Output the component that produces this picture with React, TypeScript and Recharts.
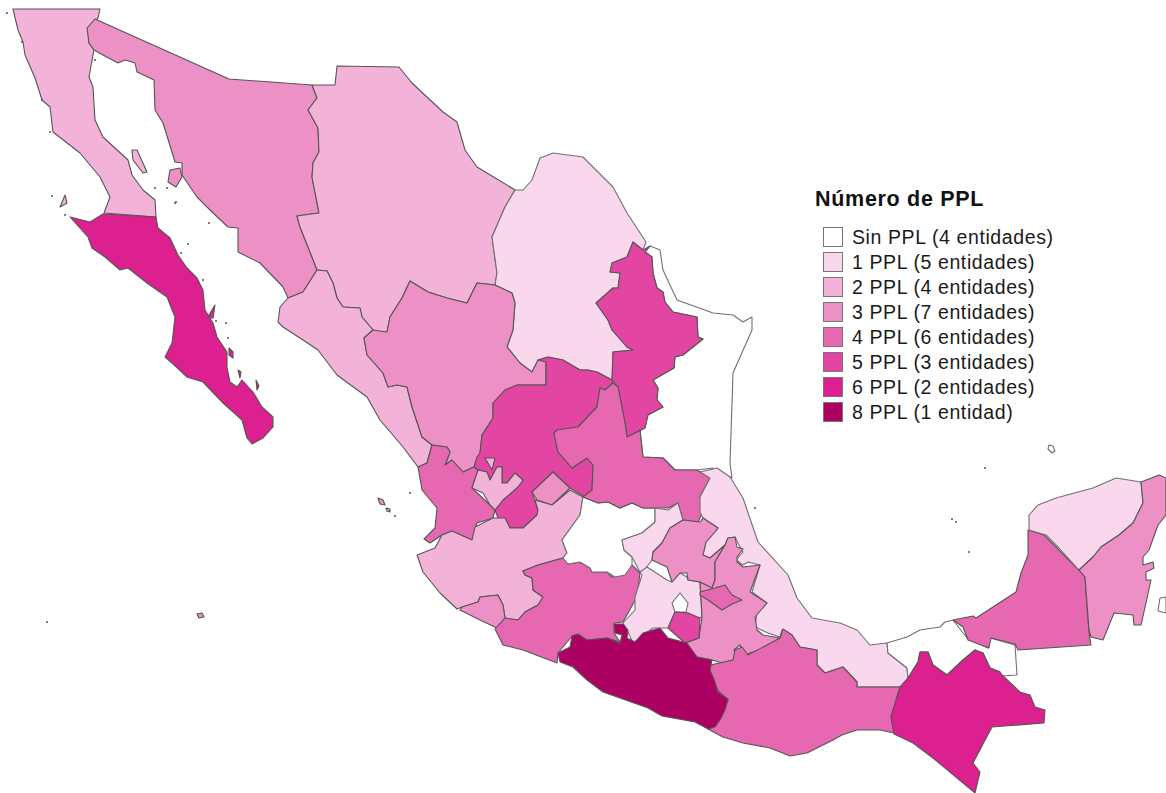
import { Legend, Polygon, Scatter, ScatterChart, XAxis, YAxis } from "recharts"

type Vertex = [number, number]

// Map units: the axes run over the picture's own extent.
const mapWidth = 1166
const mapHeight = 793

const legendTitle = "Número de PPL"
const legendLabels = [
  "Sin PPL (4 entidades)",
  "1 PPL (5 entidades)",
  "2 PPL (4 entidades)",
  "3 PPL (7 entidades)",
  "4 PPL (6 entidades)",
  "5 PPL (3 entidades)",
  "6 PPL (2 entidades)",
  "8 PPL (1 entidad)",
]
const classColors = ["#ffffff", "#f9d8ed", "#f3b3d9", "#ec90c5", "#e668b0", "#e245a2", "#dd2090", "#ad0063"]

const bajaCalifornia: Vertex[] = [[13,9],[100,9],[98,18],[88,28],[89,43],[94,50],[89,77],[93,87],[95,120],[103,137],[128,160],[132,175],[143,190],[155,200],[156,217],[104,213],[110,197],[100,177],[80,153],[53,132],[50,107],[42,100],[35,78],[25,55],[23,42],[18,30]]
const angelGuarda: Vertex[] = [[132,150],[137,150],[147,172],[143,173],[133,160]]
const cedros: Vertex[] = [[65,195],[67,203],[60,207],[63,200]]
const sonora: Vertex[] = [[95,19],[229,79],[312,85],[317,98],[308,110],[318,128],[319,152],[313,163],[312,177],[319,213],[297,216],[300,227],[312,257],[317,270],[303,292],[288,298],[283,287],[260,263],[238,252],[238,228],[228,227],[210,210],[197,197],[182,175],[182,163],[175,162],[163,123],[155,110],[154,80],[137,72],[135,63],[125,60],[118,63],[103,55],[94,50],[89,43],[87,28]]
const tiburon: Vertex[] = [[170,170],[180,168],[182,177],[176,187],[168,182]]
const bajaSur: Vertex[] = [[70,217],[90,222],[103,214],[156,217],[158,228],[170,238],[178,255],[187,268],[197,278],[203,290],[205,310],[213,323],[217,337],[227,352],[227,367],[230,382],[237,387],[242,380],[253,392],[262,407],[273,417],[273,427],[263,438],[252,444],[247,438],[242,420],[223,403],[203,382],[187,377],[172,363],[165,357],[172,343],[175,317],[167,297],[147,283],[128,268],[120,270],[105,257],[92,248],[88,237]]
const bajaSurIsle1: Vertex[] = [[209,315],[215,305],[213,318],[208,318]]
const bajaSurIsle2: Vertex[] = [[229,348],[233,352],[233,358],[229,355]]
const bajaSurIsle3: Vertex[] = [[238,370],[241,372],[240,378]]
const bajaSurIsle4: Vertex[] = [[256,380],[259,386],[257,390]]
const chihuahua: Vertex[] = [[337,66],[399,67],[412,83],[443,112],[457,122],[465,150],[477,167],[515,190],[505,207],[492,237],[497,273],[495,285],[477,283],[467,303],[447,298],[428,292],[410,281],[402,298],[390,317],[387,332],[377,333],[373,330],[362,317],[360,308],[343,307],[337,298],[333,283],[327,271],[317,270],[312,257],[300,227],[297,216],[319,213],[312,177],[313,163],[319,152],[318,128],[308,110],[317,98],[312,85],[335,85]]
const coahuila: Vertex[] = [[515,190],[523,190],[532,180],[540,158],[553,153],[583,157],[593,167],[613,187],[627,213],[646,242],[643,250],[633,242],[627,257],[612,263],[610,272],[620,273],[618,288],[613,288],[596,303],[608,320],[612,330],[627,347],[633,350],[613,352],[612,380],[597,372],[588,370],[580,370],[563,360],[548,357],[538,360],[532,372],[520,363],[507,347],[513,330],[515,303],[512,293],[495,285],[497,273],[492,237],[505,207]]
const nuevoLeon: Vertex[] = [[633,242],[643,250],[650,246],[645,252],[652,257],[653,273],[657,288],[663,292],[665,302],[673,312],[697,317],[698,337],[703,339],[683,355],[675,357],[674,368],[653,380],[658,388],[657,400],[663,407],[648,415],[645,428],[637,432],[627,437],[625,423],[618,387],[612,380],[613,352],[633,350],[627,347],[612,330],[608,320],[596,303],[613,288],[618,288],[620,273],[610,272],[612,263],[627,257]]
const tamaulipas: Vertex[] = [[645,252],[650,246],[660,250],[663,270],[677,300],[713,313],[733,315],[743,322],[752,317],[752,330],[733,373],[730,463],[732,478],[713,468],[697,470],[675,470],[663,458],[643,457],[640,430],[645,428],[648,415],[663,407],[657,400],[658,388],[653,380],[674,368],[675,357],[683,355],[703,339],[698,337],[697,317],[673,312],[665,302],[663,292],[657,288],[653,273],[652,257]]
const durango: Vertex[] = [[410,281],[428,292],[447,298],[467,303],[477,283],[495,285],[512,293],[515,303],[513,330],[507,347],[520,363],[532,372],[538,360],[546,360],[546,385],[517,385],[505,390],[493,403],[493,418],[482,435],[480,453],[474,467],[463,472],[452,460],[445,465],[450,452],[447,447],[432,445],[422,437],[412,407],[407,387],[397,385],[388,387],[383,373],[367,355],[364,338],[373,330],[387,332],[390,317],[402,298]]
const sinaloa: Vertex[] = [[317,270],[327,271],[333,283],[337,298],[343,307],[360,308],[362,317],[373,330],[364,338],[367,355],[383,373],[388,387],[397,385],[407,387],[412,407],[422,437],[432,445],[427,463],[418,467],[403,447],[380,420],[367,397],[337,375],[318,350],[303,340],[283,327],[278,322],[280,307],[288,298],[303,292]]
const zacatecas: Vertex[] = [[538,360],[548,357],[563,360],[580,370],[588,370],[597,372],[612,380],[613,383],[605,390],[600,388],[597,407],[578,427],[557,430],[554,433],[558,452],[572,468],[587,458],[593,465],[592,490],[585,497],[570,488],[553,472],[532,492],[538,510],[537,515],[523,528],[510,528],[498,518],[495,510],[503,500],[518,487],[523,480],[515,473],[507,483],[502,483],[502,467],[497,467],[490,480],[487,472],[478,470],[474,467],[477,457],[480,453],[482,435],[493,418],[493,403],[505,390],[517,385],[546,385],[546,362]]
const aguascalientes: Vertex[] = [[532,492],[553,472],[570,488],[552,505],[537,500]]
const nayarit: Vertex[] = [[432,445],[447,447],[450,452],[445,465],[452,460],[463,472],[474,467],[478,470],[472,488],[490,505],[495,510],[493,518],[477,523],[472,540],[452,531],[442,535],[430,543],[424,539],[435,528],[437,508],[422,490],[418,467],[427,463]]
const jalisco: Vertex[] = [[417,555],[435,548],[442,535],[452,531],[472,540],[475,527],[493,518],[505,518],[510,528],[523,528],[537,515],[538,510],[535,500],[552,505],[570,490],[583,497],[580,515],[562,540],[567,553],[563,558],[538,565],[523,571],[525,575],[532,578],[533,590],[543,597],[538,605],[525,612],[518,620],[505,618],[503,605],[498,595],[480,597],[478,602],[462,607],[457,609],[440,593],[423,572]]
const jaliscoNorte: Vertex[] = [[472,488],[478,470],[487,472],[490,480],[497,467],[502,467],[502,483],[507,483],[515,473],[523,480],[518,487],[503,500],[495,510],[490,505],[483,493]]
const jaliscoPatch: Vertex[] = [[485,458],[495,458],[492,470]]
const colima: Vertex[] = [[462,607],[478,602],[480,597],[498,595],[503,605],[505,618],[497,628],[480,620],[460,610]]
const michoacan: Vertex[] = [[563,558],[568,564],[580,562],[590,568],[592,572],[607,572],[612,577],[623,575],[632,565],[640,573],[637,597],[623,622],[614,623],[614,633],[620,642],[607,638],[587,640],[573,635],[558,653],[557,663],[523,650],[503,645],[495,629],[505,618],[518,620],[525,612],[538,605],[543,597],[533,590],[532,578],[525,575],[523,571],[538,565]]
const guanajuato: Vertex[] = [[583,497],[598,503],[608,502],[620,508],[632,503],[643,508],[655,508],[655,522],[642,533],[622,540],[624,550],[632,557],[632,565],[625,575],[615,577],[607,572],[592,572],[590,568],[580,562],[568,564],[563,558],[567,553],[562,540],[580,515]]
const sanLuis: Vertex[] = [[613,383],[618,387],[625,423],[627,437],[637,432],[640,430],[643,457],[663,458],[675,470],[697,470],[710,478],[700,497],[703,512],[698,522],[683,520],[678,503],[668,508],[655,508],[643,508],[632,503],[620,508],[608,502],[598,503],[583,497],[592,490],[593,465],[587,458],[572,468],[558,452],[554,433],[557,430],[578,427],[597,407],[600,388],[605,390]]
const queretaro: Vertex[] = [[655,508],[668,510],[678,503],[683,520],[670,528],[662,543],[653,552],[652,560],[643,572],[640,572],[632,557],[624,550],[622,540],[642,533],[655,522]]
const veracruz: Vertex[] = [[700,472],[717,468],[730,477],[743,498],[758,542],[788,575],[797,598],[812,618],[840,623],[857,630],[870,645],[887,643],[888,653],[907,668],[908,678],[900,687],[857,687],[857,682],[843,667],[825,673],[817,665],[817,650],[800,647],[792,635],[782,630],[780,637],[768,633],[755,627],[757,612],[767,603],[752,592],[760,565],[748,562],[743,565],[736,560],[743,552],[738,543],[735,537],[728,538],[725,545],[710,558],[703,555],[706,542],[718,528],[703,518],[700,512],[700,497],[710,478]]
const edomex: Vertex[] = [[647,567],[667,580],[672,582],[680,573],[687,577],[688,580],[700,582],[702,617],[698,618],[688,613],[675,612],[668,628],[653,628],[633,643],[627,630],[623,623],[635,610],[635,597],[642,575],[640,572]]
const cdmx: Vertex[] = [[680,593],[688,603],[686,612],[675,612],[672,603]]
const morelos: Vertex[] = [[675,612],[688,613],[700,618],[699,638],[685,643],[668,628]]
const guerrero: Vertex[] = [[558,653],[570,647],[572,636],[578,634],[587,640],[607,638],[620,643],[622,635],[615,633],[614,624],[623,624],[628,630],[627,638],[635,642],[643,633],[660,628],[668,638],[687,643],[697,657],[712,660],[710,670],[715,682],[718,692],[728,699],[725,710],[720,720],[715,727],[708,729],[695,722],[662,716],[648,708],[603,692],[587,680],[573,667],[560,662]]
const hidalgo: Vertex[] = [[683,520],[700,522],[703,518],[718,528],[715,532],[706,542],[703,555],[710,558],[725,545],[715,562],[715,580],[712,588],[700,582],[688,580],[687,573],[680,573],[672,582],[667,567],[652,560],[653,552],[662,543],[670,528]]
const puebla: Vertex[] = [[712,660],[722,663],[737,659],[734,650],[740,645],[744,655],[762,649],[780,638],[763,635],[757,630],[755,617],[767,603],[750,592],[760,565],[743,567],[737,562],[737,557],[743,549],[737,547],[735,537],[728,538],[725,545],[715,562],[715,580],[712,588],[700,582],[702,617],[699,638],[685,643],[697,657]]
const tlaxcala: Vertex[] = [[700,592],[715,588],[725,585],[732,595],[742,600],[732,604],[722,610],[708,600],[700,595]]
const oaxaca: Vertex[] = [[710,665],[733,660],[735,650],[742,647],[748,655],[780,638],[783,629],[792,635],[800,647],[817,650],[817,665],[825,673],[843,667],[857,682],[857,687],[900,687],[891,717],[894,733],[880,730],[857,730],[842,735],[833,740],[807,753],[790,756],[770,748],[743,743],[723,737],[708,729],[715,725],[720,717],[728,700],[717,690],[710,673]]
const chiapas: Vertex[] = [[900,687],[908,678],[918,662],[920,652],[928,652],[933,665],[947,675],[963,660],[975,650],[983,653],[990,668],[1000,672],[1002,675],[1020,692],[1030,695],[1035,707],[1045,710],[1044,723],[992,727],[973,763],[980,772],[975,793],[933,758],[913,743],[894,734],[891,717]]
const tabasco: Vertex[] = [[887,643],[907,637],[920,630],[940,627],[945,622],[953,620],[967,638],[988,648],[990,638],[1015,645],[1017,675],[1001,676],[1000,672],[990,668],[983,653],[975,650],[963,660],[947,675],[933,665],[928,652],[920,652],[918,662],[908,678],[907,668],[888,653]]
const campeche: Vertex[] = [[953,620],[973,616],[976,618],[1016,592],[1021,573],[1028,555],[1028,530],[1044,535],[1079,570],[1085,577],[1089,633],[1091,645],[1018,650],[1015,644],[991,638],[989,648],[968,640],[963,627]]
const yucatan: Vertex[] = [[1029,530],[1029,515],[1038,505],[1056,498],[1093,488],[1116,478],[1141,482],[1143,503],[1133,523],[1119,535],[1101,547],[1093,557],[1079,570],[1059,548],[1046,535]]
const quintanaRoo: Vertex[] = [[1141,482],[1149,479],[1159,475],[1166,478],[1166,515],[1158,525],[1149,550],[1143,557],[1143,565],[1153,562],[1154,568],[1146,572],[1146,580],[1151,580],[1146,603],[1141,625],[1134,625],[1133,615],[1114,613],[1103,640],[1091,637],[1089,630],[1085,577],[1079,570],[1093,557],[1101,547],[1119,535],[1133,523],[1143,503]]
const cozumel: Vertex[] = [[1160,598],[1166,597],[1166,613],[1158,611]]
const alacranes: Vertex[] = [[1049,445],[1053,446],[1055,451],[1052,453],[1048,449]]
const mariasNorte: Vertex[] = [[378,498],[383,500],[385,505],[380,504]]
const mariasSur: Vertex[] = [[386,508],[390,509],[390,512],[387,511]]
const socorro: Vertex[] = [[197,614],[202,613],[204,617],[199,618]]

const islets: Vertex[] = [[7,13],[22,42],[42,100],[50,132],[52,196],[65,215],[95,60],[167,188],[155,188],[176,202],[209,223],[188,244],[181,253],[203,280],[175,203],[216,321],[226,323],[228,338],[395,516],[410,493],[47,622],[956,522],[952,519],[969,552],[985,468],[755,508]]

// [outline, index into classColors], painted in this order
const mapLayers: [Vertex[], number][] = [
  [bajaCalifornia, 2], [angelGuarda, 2], [cedros, 2], [sonora, 3], [tiburon, 3],
  [bajaSur, 6], [bajaSurIsle1, 6], [bajaSurIsle2, 6], [bajaSurIsle3, 6], [bajaSurIsle4, 6],
  [chihuahua, 2], [coahuila, 1], [tamaulipas, 0], [nuevoLeon, 5], [sinaloa, 2], [durango, 3],
  [zacatecas, 5], [aguascalientes, 3], [nayarit, 4], [jalisco, 2], [jaliscoNorte, 2], [jaliscoPatch, 2],
  [colima, 3], [michoacan, 4], [guanajuato, 0], [sanLuis, 4], [queretaro, 1], [veracruz, 1],
  [edomex, 1], [cdmx, 0], [hidalgo, 3], [puebla, 3], [tlaxcala, 4], [morelos, 5], [oaxaca, 4],
  [guerrero, 7], [tabasco, 0], [chiapas, 6], [campeche, 4], [yucatan, 1], [quintanaRoo, 3],
  [cozumel, 0], [alacranes, 0], [mariasNorte, 3], [mariasSur, 3], [socorro, 3],
]

const toRows = (outline: Vertex[]) => outline.map(([x, y]) => ({ x, y }))

function MapLegend() {
  return (
    <div style={{ fontFamily: "'Liberation Sans', Arial, sans-serif", color: "#1a1a1a" }}>
      <div style={{ fontSize: 21.5, fontWeight: 700, lineHeight: "26px", letterSpacing: 0.7, marginBottom: 12.5, color: "#111" }}>
        {legendTitle}
      </div>
      {legendLabels.map((label, i) => (
        <div key={label} style={{ display: "flex", alignItems: "center", height: 25, marginLeft: 8 }}>
          <span
            style={{
              width: 20,
              height: 20,
              boxSizing: "border-box",
              background: classColors[i],
              border: "1px solid #777",
              marginRight: 9,
            }}
          />
          <span style={{ fontSize: 19.5, letterSpacing: 0.6, whiteSpace: "nowrap" }}>{label}</span>
        </div>
      ))}
    </div>
  )
}

export default function App() {
  return (
    <div style={{ position: "absolute", left: 0, top: 0, width: mapWidth, height: mapHeight }}>
      <ScatterChart width={mapWidth} height={mapHeight} margin={{ top: 0, right: 0, bottom: 0, left: 0 }}>
        <XAxis type="number" dataKey="x" domain={[0, mapWidth]} hide allowDataOverflow />
        <YAxis type="number" dataKey="y" domain={[0, mapHeight]} reversed hide allowDataOverflow />
        {mapLayers.map(([outline, cls], i) => (
          <Scatter
            key={i}
            data={toRows(outline)}
            isAnimationActive={false}
            shape={() => <g />}
            line={(props: any) => (
              <Polygon
                points={props.points}
                fill={classColors[cls]}
                stroke={cls === 0 || cls === 1 ? "#707070" : "#555555"}
                strokeWidth={1.1}
                strokeLinejoin="round"
              />
            )}
          />
        ))}
        <Scatter
          data={toRows(islets)}
          isAnimationActive={false}
          shape={(props: any) => <circle cx={props.cx} cy={props.cy} r={1} fill="#555555" />}
        />
        <Legend
          layout="vertical"
          align="center"
          verticalAlign="middle"
          content={() => <MapLegend />}
          wrapperStyle={{ left: 815, top: 186, width: 260, bottom: "auto", right: "auto" }}
        />
      </ScatterChart>
    </div>
  )
}
